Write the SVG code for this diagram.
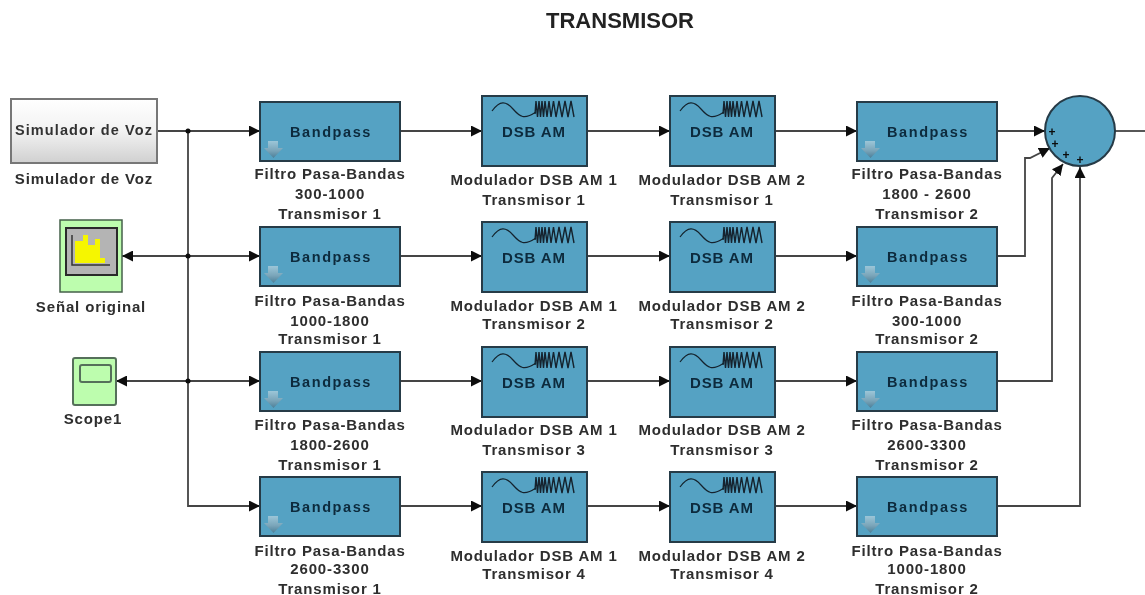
<svg xmlns="http://www.w3.org/2000/svg" width="1145" height="595" viewBox="0 0 1145 595">
<style>
text{font-family:"Liberation Sans",Arial,sans-serif;font-weight:bold;text-anchor:middle;fill:#2e2e2e}
.lbl{font-size:15px;letter-spacing:.85px;transform:translateY(1px)}
.in{font-size:14.5px;fill:#0c2a3c;letter-spacing:1.6px}
.blk{fill:#55a2c3;stroke:#263a46;stroke-width:2}
.w{fill:none;stroke:#444;stroke-width:1.800}
</style>
<defs>
<filter id="soft" x="-5%" y="-5%" width="110%" height="110%"><feGaussianBlur stdDeviation="0.5"/></filter>
<linearGradient id="sg" x1="0" y1="0" x2="0" y2="1"><stop offset="0" stop-color="#ffffff"/><stop offset=".5" stop-color="#f2f2f2"/><stop offset="1" stop-color="#d0d0d0"/></linearGradient>
<linearGradient id="ag" x1="0" y1="0" x2="0" y2="1"><stop offset="0" stop-color="#9cc6d8"/><stop offset=".55" stop-color="#7ba6ba"/><stop offset="1" stop-color="#4c7f98"/></linearGradient>
<marker id="a" viewBox="0 0 10 10" refX="10" refY="5" markerWidth="11" markerHeight="11" markerUnits="userSpaceOnUse" orient="auto"><path d="M0 0L10 5L0 10Z" fill="#0a0a0a"/></marker>
<g id="bp">
<rect class="blk" x="0" y="0" width="140" height="59"/>
<path d="M8 39h10v7h5l-9.500 10-9.500-10h4z" fill="url(#ag)"/>
<text class="in" x="71" y="35">Bandpass</text>
</g>
<g id="dsb">
<rect class="blk" x="0" y="0" width="105" height="70"/>
<path d="M10 15C18 4 24 5 31 13S42 24 54 16" fill="none" stroke="#14242e" stroke-width="1.200"/>
<path d="M53 18l1-13 1.500 16 1.500-16 1.500 16 1.500-16 1.500 16 1.500-16 2 16 2-16 2 16 2.500-16 2.500 16 3-16 3 16 3-16 3 16 3-16 3 16" fill="none" stroke="#14242e" stroke-width="1.400"/>
<text class="in" x="52" y="41" style="letter-spacing:.9px;font-size:15px">DSB AM</text>
</g>
</defs>
<g filter="url(#soft)">
<text id="title" x="620" y="28" style="font-size:22px;fill:#222">TRANSMISOR</text>
<g id="connectors">
<path class="w" d="M157 131H260" marker-end="url(#a)"/>
<path class="w" d="M188 131V506H260" marker-end="url(#a)"/>
<path class="w" d="M188 256H260" marker-end="url(#a)"/>
<path class="w" d="M188 256H122" marker-end="url(#a)"/>
<path class="w" d="M188 381H260" marker-end="url(#a)"/>
<path class="w" d="M188 381H116" marker-end="url(#a)"/>
<path class="w" d="M400 131H482" marker-end="url(#a)"/><path class="w" d="M400 256H482" marker-end="url(#a)"/><path class="w" d="M400 381H482" marker-end="url(#a)"/><path class="w" d="M400 506H482" marker-end="url(#a)"/>
<path class="w" d="M587 131H670" marker-end="url(#a)"/><path class="w" d="M587 256H670" marker-end="url(#a)"/><path class="w" d="M587 381H670" marker-end="url(#a)"/><path class="w" d="M587 506H670" marker-end="url(#a)"/>
<path class="w" d="M774 131H857" marker-end="url(#a)"/><path class="w" d="M774 256H857" marker-end="url(#a)"/><path class="w" d="M774 381H857" marker-end="url(#a)"/><path class="w" d="M774 506H857" marker-end="url(#a)"/>
<path class="w" d="M997 131H1045" marker-end="url(#a)"/>
<path class="w" d="M997 256H1025V158H1030L1050 148" marker-end="url(#a)"/>
<path class="w" d="M997 381H1052V178L1063 164" marker-end="url(#a)"/>
<path class="w" d="M997 506H1080V167" marker-end="url(#a)"/>
<path class="w" d="M1115 131H1145"/>
<circle cx="188" cy="131" r="2.500" fill="#0a0a0a"/><circle cx="188" cy="256" r="2.500" fill="#0a0a0a"/><circle cx="188" cy="381" r="2.500" fill="#0a0a0a"/>
</g>
<g id="simulador">
<rect x="11" y="99" width="146" height="64" fill="url(#sg)" stroke="#777" stroke-width="2"/>
<text x="84" y="135" style="font-size:14.5px;letter-spacing:1.1px;fill:#333">Simulador de Voz</text>
<text class="lbl" x="84" y="183">Simulador de Voz</text>
</g>
<g id="senal">
<rect x="60" y="220" width="62" height="72" fill="#bdfdae" stroke="#46604a" stroke-width="1.500"/>
<rect x="66" y="228" width="51" height="47" fill="#b4b4b4" stroke="#2c2c2c" stroke-width="2"/>
<path d="M75 263V241H83V235H88V245H95V239H100V258H105V263Z" fill="#f6f600"/>
<path d="M72 235V265H110" fill="none" stroke="#333" stroke-width="1.500"/>
<text class="lbl" x="91" y="311">Señal original</text>
</g>
<g id="scope1">
<rect x="73" y="358" width="43" height="47" rx="2" fill="#bdfdae" stroke="#55705a" stroke-width="2"/>
<rect x="80" y="365" width="31" height="17" rx="2" fill="#bdfdae" stroke="#55705a" stroke-width="2"/>
<text class="lbl" x="93" y="423">Scope1</text>
</g>
<g id="bp1-1"><use href="#bp" x="260" y="102"/><text class="lbl" x="330" y="178">Filtro Pasa-Bandas</text><text class="lbl" x="330" y="198">300-1000</text><text class="lbl" x="330" y="218">Transmisor 1</text></g>
<g id="bp1-2"><use href="#bp" x="260" y="227"/><text class="lbl" x="330" y="305">Filtro Pasa-Bandas</text><text class="lbl" x="330" y="325">1000-1800</text><text class="lbl" x="330" y="343">Transmisor 1</text></g>
<g id="bp1-3"><use href="#bp" x="260" y="352"/><text class="lbl" x="330" y="429">Filtro Pasa-Bandas</text><text class="lbl" x="330" y="449">1800-2600</text><text class="lbl" x="330" y="469">Transmisor 1</text></g>
<g id="bp1-4"><use href="#bp" x="260" y="477"/><text class="lbl" x="330" y="555">Filtro Pasa-Bandas</text><text class="lbl" x="330" y="573">2600-3300</text><text class="lbl" x="330" y="593">Transmisor 1</text></g>
<g id="dsb1-1"><use href="#dsb" x="482" y="96"/><text class="lbl" x="534" y="184">Modulador DSB AM 1</text><text class="lbl" x="534" y="204">Transmisor 1</text></g>
<g id="dsb1-2"><use href="#dsb" x="482" y="222"/><text class="lbl" x="534" y="310">Modulador DSB AM 1</text><text class="lbl" x="534" y="328">Transmisor 2</text></g>
<g id="dsb1-3"><use href="#dsb" x="482" y="347"/><text class="lbl" x="534" y="434">Modulador DSB AM 1</text><text class="lbl" x="534" y="454">Transmisor 3</text></g>
<g id="dsb1-4"><use href="#dsb" x="482" y="472"/><text class="lbl" x="534" y="560">Modulador DSB AM 1</text><text class="lbl" x="534" y="578">Transmisor 4</text></g>
<g id="dsb2-1"><use href="#dsb" x="670" y="96"/><text class="lbl" x="722" y="184">Modulador DSB AM 2</text><text class="lbl" x="722" y="204">Transmisor 1</text></g>
<g id="dsb2-2"><use href="#dsb" x="670" y="222"/><text class="lbl" x="722" y="310">Modulador DSB AM 2</text><text class="lbl" x="722" y="328">Transmisor 2</text></g>
<g id="dsb2-3"><use href="#dsb" x="670" y="347"/><text class="lbl" x="722" y="434">Modulador DSB AM 2</text><text class="lbl" x="722" y="454">Transmisor 3</text></g>
<g id="dsb2-4"><use href="#dsb" x="670" y="472"/><text class="lbl" x="722" y="560">Modulador DSB AM 2</text><text class="lbl" x="722" y="578">Transmisor 4</text></g>
<g id="bp2-1"><use href="#bp" x="857" y="102"/><text class="lbl" x="927" y="178">Filtro Pasa-Bandas</text><text class="lbl" x="927" y="198">1800 - 2600</text><text class="lbl" x="927" y="218">Transmisor 2</text></g>
<g id="bp2-2"><use href="#bp" x="857" y="227"/><text class="lbl" x="927" y="305">Filtro Pasa-Bandas</text><text class="lbl" x="927" y="325">300-1000</text><text class="lbl" x="927" y="343">Transmisor 2</text></g>
<g id="bp2-3"><use href="#bp" x="857" y="352"/><text class="lbl" x="927" y="429">Filtro Pasa-Bandas</text><text class="lbl" x="927" y="449">2600-3300</text><text class="lbl" x="927" y="469">Transmisor 2</text></g>
<g id="bp2-4"><use href="#bp" x="857" y="477"/><text class="lbl" x="927" y="555">Filtro Pasa-Bandas</text><text class="lbl" x="927" y="573">1000-1800</text><text class="lbl" x="927" y="593">Transmisor 2</text></g>
<g id="sum">
<circle class="blk" cx="1080" cy="131" r="35"/>
<text x="1052" y="136" style="font-size:12px;fill:#0a0a0a">+</text><text x="1055" y="148" style="font-size:12px;fill:#0a0a0a">+</text><text x="1066" y="159" style="font-size:12px;fill:#0a0a0a">+</text><text x="1080" y="164" style="font-size:12px;fill:#0a0a0a">+</text>
</g>
</g>
</svg>
